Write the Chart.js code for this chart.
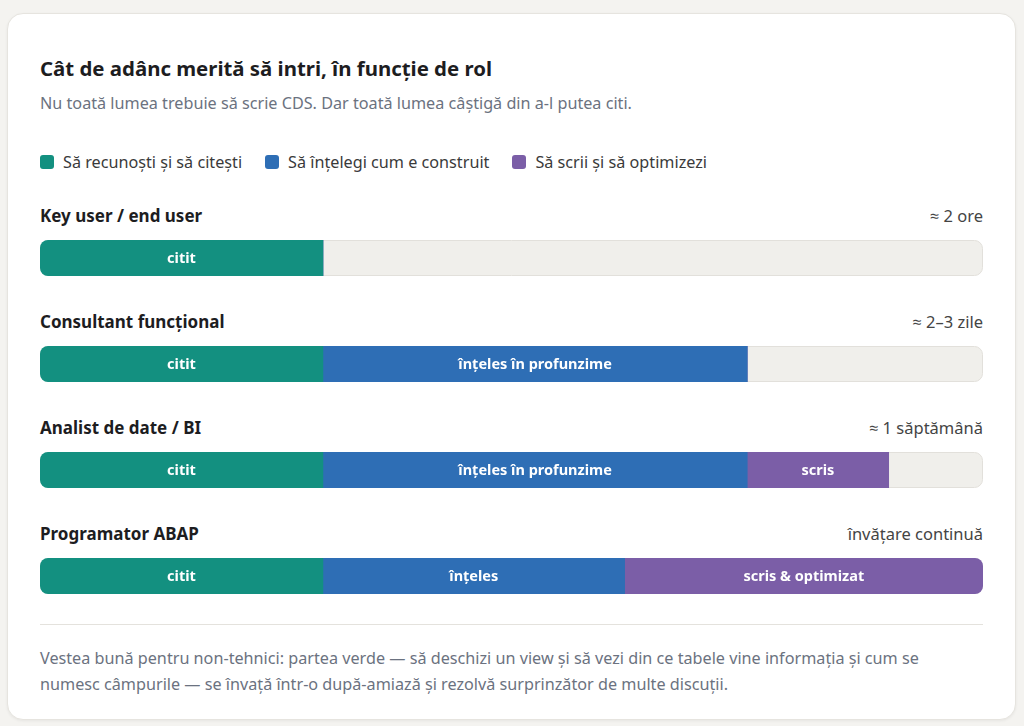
<!DOCTYPE html>
<html lang="ro">
<head>
<meta charset="utf-8">
<script src="https://cdn.jsdelivr.net/npm/chart.js@4/dist/chart.umd.min.js"></script>
<style>
  html, body { margin: 0; padding: 0; background: #f4f3f0; }
  body { width: 1024px; height: 726px; position: relative; font-family: "Noto Sans", "Open Sans", sans-serif; }
  .card { position: absolute; left: 7px; top: 13px; width: 1009px; height: 707px; box-sizing: border-box;
          background: #fff; border: 1px solid #e6e4df; border-radius: 16px; box-shadow: 0 1px 3px rgba(0,0,0,0.06);
          padding: 40px 32px 0 32px; }
  h1 { margin: 0; font-size: 20.4px; line-height: 28px; font-weight: 700; color: #1d1d1f; }
  .sub { margin-top: 10px; font-size: 16.2px; line-height: 22px; color: #6b7280; }
  .legend { margin-top: 37px; display: flex; gap: 23px; font-size: 16.2px; line-height: 22px; color: #3a3a3a; }
  .legend span.item { display: flex; align-items: center; }
  .legend i { display: inline-block; width: 14px; height: 14px; border-radius: 3px; margin-right: 9px; }
  .row { margin-top: 32px; }
  .row + .row { margin-top: 35px; }
  .rhead { display: flex; justify-content: space-between; line-height: 22px; }
  .rhead b { color: #1d1d1f; font-weight: 700; font-size: 17px; }
  .rhead span { color: #444; font-size: 16.5px; }
  .bar { margin-top: 13px; height: 36px; position: relative; }
  hr { border: 0; border-top: 1px solid #e4e2dd; margin: 30px 0 0 0; }
  .foot { margin-top: 20px; padding-right: 20px; font-size: 16.2px; line-height: 26px; color: #6b7280; }
</style>
</head>
<body>
<div class="card">
  <h1>Cât de adânc merită să intri, în funcție de rol</h1>
  <div class="sub">Nu toată lumea trebuie să scrie CDS. Dar toată lumea câștigă din a-l putea citi.</div>
  <div class="legend" id="legend"></div>
  <div id="rows"></div>
  <hr>
  <div class="foot">Vestea bună pentru non-tehnici: partea verde — să deschizi un view și să vezi din ce tabele vine informația și cum se numesc câmpurile — se învață într-o după-amiază și rezolvă surprinzător de multe discuții.</div>
</div>
<script>
// ---- data ----
const roles = ["Key user / end user", "Consultant funcțional", "Analist de date / BI", "Programator ABAP"];
const durations = ["≈ 2 ore", "≈ 2–3 zile", "≈ 1 săptămână", "învățare continuă"];
const seriesNames = ["Să recunoști și să citești", "Să înțelegi cum e construit", "Să scrii și să optimizezi"];
const seriesColors = ["#139080", "#2e6eb5", "#7b5ea7"];
const readValues = [30, 30, 30, 30];
const understandValues = [0, 45, 45, 32];
const writeValues = [0, 0, 15, 38];
const readLabels = ["citit", "citit", "citit", "citit"];
const understandLabels = ["", "înțeles în profunzime", "înțeles în profunzime", "înțeles"];
const writeLabels = ["", "", "scris", "scris & optimizat"];
const scaleMax = 100;

// legend
const lg = document.getElementById('legend');
seriesNames.forEach((n, i) => {
  const s = document.createElement('span'); s.className = 'item';
  s.innerHTML = '<i style="background:' + seriesColors[i] + '"></i>' + n;
  lg.appendChild(s);
});

function roundRect(ctx, x, y, w, h, r) {
  ctx.beginPath();
  ctx.moveTo(x + r, y);
  ctx.lineTo(x + w - r, y);
  ctx.arcTo(x + w, y, x + w, y + r, r);
  ctx.lineTo(x + w, y + h - r);
  ctx.arcTo(x + w, y + h, x + w - r, y + h, r);
  ctx.lineTo(x + r, y + h);
  ctx.arcTo(x, y + h, x, y + h - r, r);
  ctx.lineTo(x, y + r);
  ctx.arcTo(x, y, x + r, y, r);
  ctx.closePath();
}

const trackPlugin = {
  id: 'track',
  beforeDatasetsDraw(chart) {
    const { ctx, chartArea: a } = chart;
    ctx.save();
    roundRect(ctx, a.left + 0.5, a.top + 0.5, a.right - a.left - 1, a.bottom - a.top - 1, 8);
    ctx.fillStyle = '#f0efeb';
    ctx.fill();
    ctx.strokeStyle = '#e2e0db';
    ctx.lineWidth = 1;
    ctx.stroke();
    roundRect(ctx, a.left, a.top, a.right - a.left, a.bottom - a.top, 8);
    ctx.clip();
  },
  afterDatasetsDraw(chart) {
    const { ctx } = chart;
    ctx.restore();
    ctx.save();
    ctx.fillStyle = '#ffffff';
    ctx.font = '700 14.5px "Noto Sans", "Open Sans", sans-serif';
    ctx.textAlign = 'center';
    ctx.textBaseline = 'middle';
    chart.data.datasets.forEach((ds, di) => {
      const meta = chart.getDatasetMeta(di);
      meta.data.forEach((el, i) => {
        const lbl = ds.segLabels[i];
        if (!lbl || !ds.data[i]) return;
        const p = el.getProps(['x', 'y', 'base'], true);
        ctx.fillText(lbl, (p.x + p.base) / 2, p.y + 1);
      });
    });
    ctx.restore();
  }
};

const rowsEl = document.getElementById('rows');
roles.forEach((role, r) => {
  const row = document.createElement('div'); row.className = 'row';
  row.innerHTML = '<div class="rhead"><b>' + role + '</b><span>' + durations[r] + '</span></div><div class="bar"><canvas></canvas></div>';
  rowsEl.appendChild(row);
  const cv = row.querySelector('canvas');
  const vals = [readValues[r], understandValues[r], writeValues[r]];
  const lbls = [readLabels[r], understandLabels[r], writeLabels[r]];
  new Chart(cv, {
    type: 'bar',
    data: {
      labels: [role],
      datasets: vals.map((v, i) => ({
        label: seriesNames[i],
        data: [v],
        segLabels: [lbls[i]],
        backgroundColor: seriesColors[i],
        borderWidth: 0,
        borderSkipped: false,
        barPercentage: 1,
        categoryPercentage: 1
      }))
    },
    options: {
      indexAxis: 'y',
      responsive: true,
      maintainAspectRatio: false,
      animation: false,
      layout: { padding: 0 },
      plugins: { legend: { display: false }, tooltip: { enabled: false } },
      scales: {
        x: { stacked: true, min: 0, max: scaleMax, display: false },
        y: { stacked: true, display: false }
      }
    },
    plugins: [trackPlugin]
  });
});
</script>
</body>
</html>
